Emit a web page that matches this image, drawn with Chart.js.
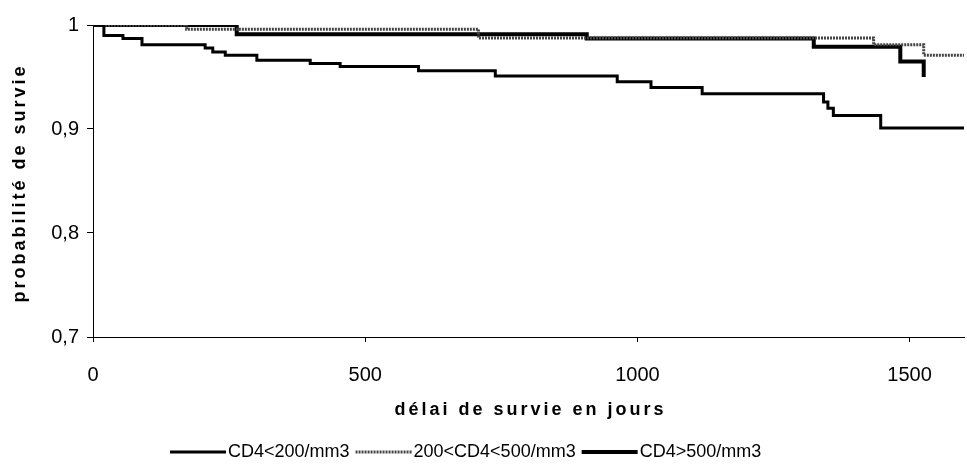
<!DOCTYPE html>
<html>
<head>
<meta charset="utf-8">
<script src="https://cdn.jsdelivr.net/npm/chart.js@4.4.1/dist/chart.umd.min.js"></script>
<style>
  html, body { margin: 0; padding: 0; background: #fff; }
  #wrap { width: 967px; height: 473px; }
</style>
</head>
<body>
<div id="wrap"><canvas id="km"></canvas></div>
<script>
// Kaplan-Meier steps (days, survival probability)
const daysLow = [0, 20, 55, 90, 206, 220, 243, 301, 399, 454, 598, 739, 963, 1025, 1119, 1342, 1350, 1360, 1447, 1600];
const survLow = [1, 0.990, 0.987, 0.981, 0.978, 0.974, 0.971, 0.966, 0.963, 0.960, 0.956, 0.951, 0.9455, 0.940, 0.934, 0.926, 0.920, 0.913, 0.901, 0.901];

const daysMid = [0, 172, 708, 1434, 1526, 1600];
const survMid = [1, 0.996, 0.9875, 0.981, 0.971, 0.971];

const daysHigh = [0, 264, 907, 1324, 1483, 1526];
const survHigh = [1, 0.991, 0.987, 0.979, 0.965, 0.950];

const seriesNames = ["CD4<200/mm3", "200<CD4<500/mm3", "CD4>500/mm3"];
const yTicks = [0.7, 0.8, 0.9, 1];
const xTicks = [0, 500, 1000, 1500];
const xTitle = "délai de survie en jours";
const yTitle = "probabilité de survie";

const FONT = "'Liberation Sans', Arial, sans-serif";

const toPoints = (xs, ys) => xs.map((x, i) => ({ x: x, y: ys[i] }));

// titles and legend drawn by hand so the letter spacing can match
const decorations = {
  id: "decorations",
  afterDraw(chart) {
    const ctx = chart.ctx;
    const area = chart.chartArea;
    ctx.save();
    ctx.fillStyle = "#000";
    ctx.font = "bold 18px " + FONT;
    ctx.textAlign = "center";
    ctx.textBaseline = "middle";
    ctx.letterSpacing = "3px";
    ctx.fillText(xTitle, (area.left + area.right) / 2 + 2, 410);

    ctx.save();
    ctx.translate(20, (area.top + area.bottom) / 2 + 2);
    ctx.rotate(-Math.PI / 2);
    ctx.fillText(yTitle, 0, 0);
    ctx.restore();

    // legend
    ctx.letterSpacing = "0px";
    ctx.font = "18px " + FONT;
    ctx.textAlign = "left";
    const sample = 56, gapText = 2, gapItem = 6;
    const widths = seriesNames.map((n) => ctx.measureText(n).width);
    let x = 170;
    const y = 452;
    chart.data.datasets.forEach((ds, i) => {
      ctx.save();
      ctx.strokeStyle = ds.borderColor;
      ctx.lineWidth = ds.borderWidth;
      ctx.setLineDash(ds.borderDash || []);
      ctx.beginPath();
      ctx.moveTo(x, y);
      ctx.lineTo(x + sample, y);
      ctx.stroke();
      ctx.restore();
      ctx.fillText(seriesNames[i], x + sample + gapText, y);
      x += sample + gapText + widths[i] + gapItem;
    });
    ctx.restore();
  },
};

new Chart(document.getElementById("km"), {
  type: "line",
  data: {
    datasets: [
      {
        label: seriesNames[0],
        data: toPoints(daysLow, survLow),
        borderColor: "#000",
        borderWidth: 3,
        stepped: true,
        pointRadius: 0,
      },
      {
        label: seriesNames[1],
        data: toPoints(daysMid, survMid),
        borderColor: "#444",
        borderWidth: 3,
        borderDash: [2, 1],
        stepped: true,
        pointRadius: 0,
      },
      {
        label: seriesNames[2],
        data: toPoints(daysHigh, survHigh),
        borderColor: "#000",
        borderWidth: 4,
        stepped: true,
        pointRadius: 0,
      },
    ],
  },
  options: {
    responsive: true,
    maintainAspectRatio: false,
    animation: false,
    layout: { padding: { top: 25, right: 3, left: 0, bottom: 0 } },
    plugins: {
      legend: { display: false },
      tooltip: { enabled: false },
    },
    scales: {
      x: {
        type: "linear",
        min: 0,
        max: 1600,
        afterFit: (scale) => { scale.height = 136; },
        afterBuildTicks: (scale) => { scale.ticks = xTicks.map((v) => ({ value: v })); },
        grid: { drawOnChartArea: false, tickLength: 5, color: "#000" },
        border: { color: "#000", width: 1 },
        ticks: {
          padding: 21,
          color: "#000",
          font: { family: FONT, size: 20 },
          callback: (v) => String(v),
        },
      },
      y: {
        min: 0.7,
        max: 1,
        afterFit: (scale) => { scale.width = 93; },
        afterBuildTicks: (scale) => { scale.ticks = yTicks.map((v) => ({ value: v })); },
        grid: { drawOnChartArea: false, tickLength: 6, color: "#000" },
        border: { color: "#000", width: 1 },
        ticks: {
          padding: 8,
          color: "#000",
          font: { family: FONT, size: 20 },
          callback: (v) => (v === 1 ? "1" : v.toFixed(1).replace(".", ",")),
        },
      },
    },
  },
  plugins: [decorations],
});
</script>
</body>
</html>
